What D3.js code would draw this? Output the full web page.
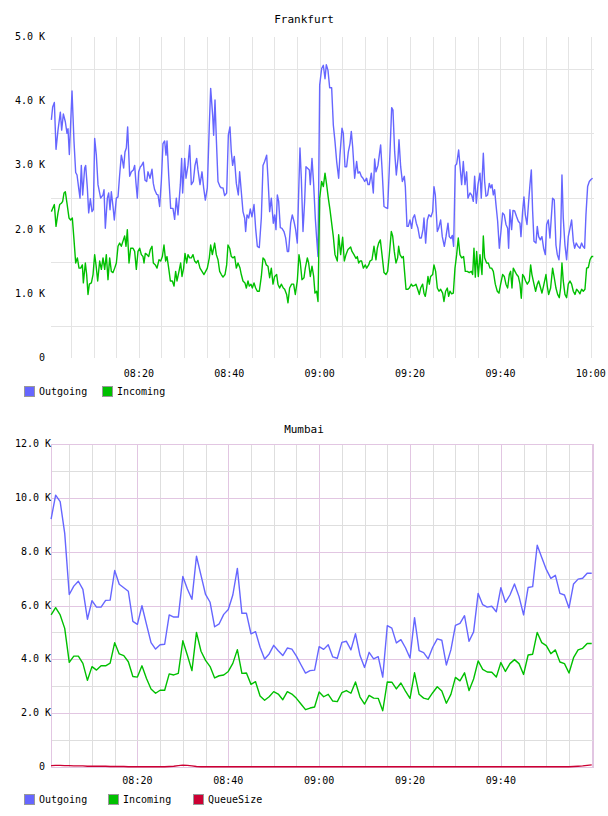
<!DOCTYPE html>
<html>
<head>
<meta charset="utf-8">
<script src="https://cdn.jsdelivr.net/npm/d3@7"></script>
<style>
  body { margin: 0; background: #fff; }
  svg { display: block; }
  text { font-family: "DejaVu Sans Mono", monospace; font-size: 10px; fill: #000; }
</style>
</head>
<body>
<svg id="chart" width="608" height="816"></svg>
<script>
// times are minutes after 08:00, values are thousands
const frankfurtOutgoing = [
  [0.63,3.71],[0.92,3.91],[1.29,3.98],[1.66,3.25],[2.10,3.55],[2.62,3.83],[2.91,3.55],[3.28,3.80],[3.72,3.68],[4.09,3.50],
  [4.31,3.57],[4.61,3.17],[5.20,4.16],[5.64,3.37],[6.01,2.89],[6.31,2.85],[6.67,2.65],[6.97,2.49],[7.26,3.00],[7.56,2.54],
  [8.00,2.96],[8.22,3.00],[8.59,2.65],[8.89,2.26],[9.26,2.48],[9.62,2.28],[9.92,2.31],[10.21,3.42],[10.58,3.16],[10.95,2.70],
  [11.54,2.49],[12.06,2.54],[12.28,2.62],[12.57,2.02],[13.02,2.49],[13.31,2.57],[13.61,2.31],[13.90,2.59],[14.27,2.36],[14.56,2.15],
  [15.01,2.49],[15.38,2.51],[15.74,2.85],[16.11,3.16],[16.33,3.09],[16.63,2.96],[16.92,3.21],[17.22,3.27],[17.51,3.60],[17.96,2.83],
  [18.33,2.90],[18.77,2.93],[19.06,3.00],[19.36,2.72],[19.65,2.49],[19.95,2.90],[20.32,2.98],[20.61,3.00],[20.98,3.05],[21.35,2.77],
  [21.72,2.75],[22.01,2.90],[22.46,2.80],[22.90,2.94],[23.19,2.72],[23.49,2.62],[23.93,2.55],[24.23,2.54],[24.59,2.36],[24.96,2.75],
  [25.33,3.34],[25.70,3.38],[25.99,3.16],[26.22,3.38],[26.59,2.85],[27.03,2.33],[27.54,2.33],[27.91,2.16],[28.28,2.49],[28.65,2.23],
  [29.17,2.70],[29.46,3.11],[29.68,2.57],[30.13,3.11],[30.42,2.80],[30.86,3.00],[31.23,3.31],[31.60,2.70],[32.04,2.75],[32.41,3.00],
  [32.78,3.11],[33.07,2.93],[33.52,2.70],[33.96,2.90],[34.33,2.65],[34.70,2.46],[35.14,2.65],[35.58,3.63],[35.88,4.20],[36.32,3.78],
  [36.54,3.47],[36.84,4.02],[37.13,3.42],[37.50,2.75],[37.94,2.67],[38.24,2.65],[38.61,2.65],[38.97,2.53],[39.42,2.57],[39.79,3.47],
  [40.15,3.60],[40.45,3.21],[40.74,3.00],[41.11,3.14],[41.56,2.72],[42.00,2.54],[42.29,2.90],[42.66,2.59],[43.03,2.28],[43.40,2.18],
  [43.62,1.97],[43.92,2.23],[44.29,2.18],[44.65,2.32],[45.02,2.20],[45.47,2.39],[45.83,2.02],[46.20,1.74],[46.64,1.72],[47.09,2.18],
  [47.46,3.00],[47.82,3.06],[48.27,3.16],[48.56,2.80],[48.93,2.28],[49.30,2.49],[49.74,2.10],[50.04,2.23],[50.33,2.00],[50.63,2.54],
  [50.92,2.44],[51.29,2.03],[51.66,2.02],[52.10,1.97],[52.47,1.87],[52.84,1.66],[53.13,1.66],[53.58,2.10],[53.94,2.23],[54.31,2.13],
  [54.68,2.00],[55.05,1.79],[55.42,2.75],[55.64,3.27],[55.94,2.80],[56.31,1.97],[56.67,2.44],[56.97,2.98],[57.27,2.96],[57.71,2.93],
  [57.93,2.70],[58.30,3.11],[58.67,2.70],[59.03,2.18],[59.33,1.87],[59.63,1.58],[60.00,4.25],[60.44,4.51],[60.81,4.56],[61.18,4.35],
  [61.47,4.57],[61.84,4.48],[62.21,4.21],[62.65,4.21],[63.02,3.63],[63.39,3.37],[63.76,3.06],[64.20,2.80],[64.49,3.16],[64.94,3.58],
  [65.23,3.50],[65.60,2.98],[65.97,2.98],[66.34,3.21],[66.71,3.34],[67.00,3.53],[67.30,3.29],[67.74,2.80],[68.18,3.06],[68.48,2.88],
  [68.85,2.90],[69.21,2.83],[69.58,2.80],[69.95,2.75],[70.39,2.80],[70.69,2.70],[70.98,2.70],[71.43,2.88],[71.87,2.57],[72.16,3.10],
  [72.46,2.90],[72.90,3.00],[73.49,3.32],[73.79,2.96],[74.23,2.36],[74.67,2.34],[75.04,2.33],[75.56,3.21],[75.93,3.90],[76.22,3.86],
  [76.59,3.21],[76.96,2.85],[77.33,3.11],[77.55,3.40],[77.92,2.98],[78.29,2.75],[78.73,2.83],[78.95,2.67],[79.32,2.05],[79.61,2.05],
  [79.98,2.15],[80.35,2.02],[80.65,2.18],[81.01,2.23],[81.38,2.10],[81.75,2.02],[82.12,1.87],[82.49,1.87],[82.86,2.00],[83.08,2.18],
  [83.45,1.79],[83.82,2.15],[84.18,2.23],[84.63,2.20],[85.00,2.28],[85.29,2.67],[85.59,2.54],[86.03,1.97],[86.32,2.02],[86.77,2.15],
  [87.13,1.89],[87.58,1.74],[87.95,1.89],[88.39,2.10],[88.68,1.89],[89.05,1.86],[89.35,1.91],[89.64,1.74],[90.01,3.00],[90.31,3.02],
  [90.75,3.24],[91.04,3.00],[91.41,2.70],[91.78,3.06],[92.15,2.70],[92.52,2.90],[92.81,2.49],[93.26,2.57],[93.62,2.54],[93.99,2.44],
  [94.29,2.83],[94.66,2.41],[95.03,2.70],[95.47,2.88],[95.76,2.49],[96.21,3.19],[96.50,2.75],[96.80,2.52],[97.16,2.54],[97.53,2.72],
  [97.83,2.65],[98.12,2.70],[98.42,2.54],[98.71,2.62],[99.01,2.39],[99.38,2.13],[99.75,1.71],[100.11,1.97],[100.48,2.26],[100.85,2.23],
  [101.22,2.08],[101.59,2.02],[101.81,1.71],[102.10,2.31],[102.47,2.00],[102.77,2.30],[103.14,2.29],[103.58,2.20],[103.95,2.13],[104.32,2.10],
  [104.54,1.89],[104.91,2.29],[105.20,2.51],[105.50,2.23],[105.87,2.08],[106.24,2.44],[106.53,2.70],[106.83,2.93],[107.12,2.29],[107.42,1.82],
  [107.86,1.79],[108.15,2.05],[108.45,1.89],[108.82,1.84],[109.18,1.89],[109.55,1.71],[109.92,1.61],[110.22,2.08],[110.59,2.15],[110.95,1.87],
  [111.32,2.26],[111.54,2.49],[111.91,2.46],[112.28,1.76],[112.58,1.61],[112.95,1.53],[113.31,1.89],[113.61,2.85],[113.90,2.18],[114.27,1.76],
  [114.64,1.53],[115.01,1.89],[115.38,2.02],[115.75,2.15],[116.12,1.82],[116.41,1.71],[116.78,1.79],[117.15,1.74],[117.59,1.71],[117.96,1.79],
  [118.25,1.74],[118.62,1.71],[118.92,2.23],[119.29,2.67],[119.66,2.75],[120.03,2.78],[120.39,2.80]
];

const frankfurtIncoming = [
  [0.63,2.28],[0.92,2.33],[1.29,2.39],[1.66,2.05],[2.10,2.26],[2.47,2.39],[2.84,2.41],[3.13,2.44],[3.43,2.57],[3.72,2.59],
  [4.09,2.41],[4.54,2.18],[4.90,2.15],[5.27,2.18],[5.64,1.84],[6.01,1.48],[6.38,1.56],[6.75,1.40],[7.12,1.40],[7.49,1.45],
  [7.71,1.17],[8.15,1.48],[8.44,1.30],[8.74,0.99],[9.03,1.15],[9.48,1.17],[9.85,1.30],[10.21,1.61],[10.51,1.45],[10.88,1.20],
  [11.32,1.51],[11.69,1.38],[12.06,1.56],[12.43,1.38],[12.79,1.61],[13.16,1.22],[13.53,1.56],[13.90,1.35],[14.27,1.33],[14.64,1.40],
  [15.01,1.48],[15.38,1.74],[15.74,1.79],[16.11,1.74],[16.48,1.82],[16.85,1.90],[17.15,1.74],[17.44,2.00],[17.81,1.48],[18.18,1.71],
  [18.70,1.71],[19.06,1.66],[19.43,1.38],[19.80,1.66],[20.17,1.71],[20.54,1.61],[20.91,1.58],[21.13,1.48],[21.42,1.63],[21.79,1.61],
  [22.16,1.58],[22.53,1.69],[22.90,1.74],[23.19,1.48],[23.64,1.45],[24.01,1.40],[24.45,1.53],[24.82,1.51],[25.19,1.58],[25.55,1.76],
  [25.92,1.51],[26.22,1.58],[26.59,1.40],[26.96,1.20],[27.40,1.20],[27.77,1.12],[28.13,1.35],[28.43,1.20],[28.87,1.35],[29.24,1.48],
  [29.54,1.27],[29.90,1.40],[30.20,1.63],[30.57,1.48],[30.86,1.61],[31.23,1.56],[31.60,1.56],[31.97,1.61],[32.34,1.51],[32.71,1.48],
  [33.07,1.52],[33.52,1.40],[33.96,1.35],[34.40,1.30],[34.77,1.35],[35.14,1.40],[35.58,1.56],[35.88,1.76],[36.25,1.61],[36.76,1.79],
  [37.13,1.61],[37.50,1.53],[37.87,1.35],[38.24,1.30],[38.61,1.26],[39.05,1.30],[39.42,1.45],[39.71,1.76],[40.08,1.71],[40.45,1.58],
  [40.82,1.56],[41.19,1.58],[41.56,1.40],[41.93,1.48],[42.37,1.40],[42.66,1.30],[43.03,1.20],[43.47,1.17],[43.77,1.09],[44.14,1.20],
  [44.43,1.12],[44.80,1.15],[45.10,1.09],[45.47,1.17],[45.83,1.09],[46.20,1.04],[46.64,1.04],[47.09,1.27],[47.46,1.56],[47.82,1.53],
  [48.19,1.45],[48.56,1.43],[48.93,1.25],[49.30,1.40],[49.67,1.15],[50.04,1.27],[50.48,1.30],[50.77,1.15],[51.14,1.09],[51.51,1.15],
  [51.95,1.09],[52.25,1.07],[52.69,0.99],[52.99,0.86],[53.35,1.09],[53.80,1.15],[54.24,1.15],[54.61,0.99],[55.05,1.20],[55.42,1.61],
  [55.72,1.48],[56.08,1.22],[56.53,1.25],[56.82,1.40],[57.27,1.56],[57.56,1.48],[57.93,1.27],[58.30,1.43],[58.67,1.27],[58.96,1.01],
  [59.33,1.04],[59.63,0.88],[60.00,2.49],[60.44,2.75],[60.81,2.67],[61.18,2.88],[61.54,2.70],[61.91,2.49],[62.28,2.31],[62.65,2.10],
  [63.02,1.89],[63.39,1.61],[63.90,1.51],[64.20,1.92],[64.64,1.61],[65.08,1.88],[65.45,1.51],[65.82,1.61],[66.26,1.69],[66.56,1.71],
  [66.85,1.73],[67.15,1.66],[67.59,1.61],[68.03,1.55],[68.33,1.58],[68.62,1.48],[68.92,1.51],[69.29,1.51],[69.66,1.40],[70.10,1.45],
  [70.39,1.40],[70.84,1.45],[71.13,1.51],[71.57,1.53],[72.02,1.74],[72.46,1.53],[72.75,1.71],[73.05,1.79],[73.42,1.84],[73.79,1.61],
  [74.23,1.33],[74.67,1.30],[75.04,1.35],[75.41,1.61],[75.85,1.97],[76.15,1.90],[76.51,1.66],[76.88,1.48],[77.25,1.56],[77.47,1.74],
  [77.77,1.61],[78.21,1.56],[78.51,1.58],[78.80,1.33],[79.10,1.07],[79.54,1.07],[79.83,1.09],[80.28,1.15],[80.57,1.12],[81.01,1.13],
  [81.31,1.15],[81.68,1.07],[82.05,0.99],[82.34,1.09],[82.78,1.15],[83.08,1.01],[83.37,0.96],[83.67,1.09],[83.96,1.27],[84.26,1.15],
  [84.55,1.27],[85.00,1.30],[85.29,1.45],[85.66,1.35],[86.03,1.09],[86.40,1.04],[86.77,1.07],[87.21,1.01],[87.50,0.88],[87.87,1.04],
  [88.24,1.09],[88.54,0.96],[88.83,1.04],[89.20,1.00],[89.57,1.01],[89.94,1.40],[90.31,1.61],[90.67,1.87],[91.04,1.61],[91.41,1.56],
  [91.85,1.58],[92.22,1.35],[92.67,1.35],[93.11,1.33],[93.55,1.35],[93.85,1.30],[94.14,1.71],[94.44,1.26],[94.73,1.66],[95.10,1.27],
  [95.47,1.61],[95.91,1.30],[96.21,1.90],[96.50,1.56],[96.94,1.48],[97.31,1.48],[97.68,1.40],[98.05,1.40],[98.42,1.35],[98.86,1.15],
  [99.30,1.04],[99.67,1.01],[100.04,1.15],[100.48,1.30],[100.85,1.27],[101.22,1.15],[101.59,1.09],[101.96,1.30],[102.25,1.35],[102.55,1.09],
  [102.84,1.40],[103.21,1.35],[103.58,1.30],[103.95,1.27],[104.32,1.15],[104.61,0.93],[104.91,1.30],[105.20,1.27],[105.57,1.20],[105.94,1.15],
  [106.38,1.20],[106.68,1.45],[106.97,1.30],[107.42,1.15],[107.78,1.04],[108.15,1.15],[108.45,1.20],[108.89,1.09],[109.18,1.01],[109.63,1.15],
  [110.07,1.30],[110.36,1.12],[110.66,0.99],[111.10,1.09],[111.54,1.40],[111.91,1.25],[112.28,1.09],[112.65,0.99],[113.02,0.94],[113.31,1.09],
  [113.61,1.48],[113.90,1.20],[114.27,0.99],[114.64,0.94],[115.01,1.15],[115.38,1.20],[115.75,1.15],[116.12,1.04],[116.49,0.99],[116.85,1.07],
  [117.22,1.04],[117.59,1.00],[117.96,1.07],[118.33,1.04],[118.70,1.07],[119.07,1.40],[119.44,1.41],[119.81,1.53],[120.18,1.58],[120.54,1.58]
];

// Mumbai: one sample per minute starting 08:01
const mumbaiFirstMinute = 1;
const mumbaiOutgoing = [
  9.21,10.1,9.86,8.68,6.41,6.72,6.90,6.60,5.49,6.18, 5.94,5.94,6.19,6.20,7.30,6.79,6.66,6.53,5.41,5.30,
  5.99,5.30,4.62,4.38,4.54,4.56,5.65,5.57,5.57,7.08, 6.61,6.23,7.83,7.12,6.41,6.12,5.21,5.32,5.67,5.85,
  6.39,7.38,5.71,5.71,4.95,5.03,4.45,4.01,4.20,4.52, 4.32,4.14,4.42,4.38,4.12,3.80,3.49,3.58,3.60,4.47,
  4.37,4.54,4.09,4.04,4.63,4.67,4.35,4.95,4.14,3.70, 4.26,4.02,4.10,3.34,5.25,5.16,4.61,4.73,4.43,4.05,
  5.55,4.32,4.25,4.02,4.45,4.76,4.71,3.79,4.35,5.26, 5.34,5.62,4.67,5.02,6.45,6.03,5.94,5.97,5.77,6.66,
  6.12,6.39,6.80,6.33,5.65,6.67,6.70,8.24,7.78,7.34, 7.01,7.12,6.45,6.39,5.91,6.80,6.98,7.01,7.20,7.20
];
const mumbaiIncoming = [
  5.65,5.92,5.65,5.15,3.89,4.12,4.12,3.85,3.22,3.73, 3.60,3.76,3.76,3.86,4.62,4.20,4.14,3.91,3.36,3.34,
  3.76,3.29,2.90,2.74,2.85,2.85,3.46,3.42,3.48,4.69, 4.15,3.58,5.00,4.30,3.96,3.73,3.31,3.39,3.42,3.55,
  3.85,4.36,3.48,3.49,3.07,3.17,2.64,2.48,2.61,2.80, 2.71,2.50,2.80,2.71,2.55,2.34,2.13,2.19,2.23,2.79,
  2.61,2.70,2.45,2.43,2.76,2.84,2.74,3.16,2.60,2.34, 2.66,2.56,2.55,2.09,3.16,3.15,2.90,3.12,2.82,2.55,
  3.50,2.70,2.56,2.51,2.76,2.98,2.82,2.37,2.70,3.33, 3.20,3.50,2.84,3.27,3.94,3.63,3.53,3.52,3.34,3.88,
  3.55,3.84,3.99,3.84,3.44,4.16,4.19,5.00,4.62,4.51, 4.21,4.35,3.90,3.84,3.49,4.06,4.35,4.41,4.59,4.59
];
const mumbaiQueueSize = [
  0.05,0.06,0.06,0.05,0.05,0.04,0.04,0.04,0.03,0.03, 0.03,0.03,0.03,0.02,0.02,0.02,0.02,0.01,0.01,0.01,
  0.01,0.01,0.01,0.01,0.01,0.01,0.02,0.03,0.05,0.07, 0.06,0.04,0.02,0.01,0.01,0.01,0.01,0.01,0.01,0.01,
  0.01,0.01,0.01,0.01,0.01,0.01,0.01,0.01,0.01,0.01, 0.01,0.01,0.01,0.01,0.01,0.01,0.01,0.01,0.01,0.01,
  0.01,0.01,0.01,0.01,0.01,0.01,0.01,0.01,0.01,0.01, 0.01,0.01,0.01,0.01,0.01,0.01,0.01,0.01,0.01,0.01,
  0.01,0.01,0.01,0.01,0.01,0.01,0.01,0.01,0.01,0.01, 0.01,0.01,0.01,0.01,0.01,0.01,0.01,0.01,0.01,0.01,
  0.01,0.01,0.01,0.01,0.01,0.01,0.01,0.01,0.01,0.01, 0.01,0.01,0.01,0.01,0.01,0.02,0.03,0.04,0.06,0.08
];

const COLORS = { Outgoing: '#6666ff', Incoming: '#00c000', QueueSize: '#cc0033' };
const xLabelMinutes = [20, 40, 60, 80, 100, 120];

const BASE = new Date(2024, 0, 1, 8, 0, 0);
const at = m => new Date(BASE.getTime() + m * 60000);
const fmtK = v => v === 0 ? '0' : v.toFixed(1) + ' K';

const svg = d3.select('#chart');

function drawChart(cfg) {
    const g = svg.append('g');
    const x = d3.scaleTime().domain([at(cfg.domain[0]), at(cfg.domain[1])]).range([cfg.left, cfg.right]);
    const y = d3.scaleLinear().domain([0, cfg.yMax]).range([cfg.bottom, cfg.top]);

    g.append('text')
        .attr('x', 304).attr('y', cfg.titleY)
        .attr('text-anchor', 'middle').attr('dominant-baseline', 'middle')
        .style('font-size', '11px')
        .text(cfg.title);

    // grid
    const minutes = d3.range(5, cfg.domain[1], 5);
    g.append('g').selectAll('line')
        .data(minutes)
        .enter()
        .append('line')
        .attr('x1', m => Math.round(x(at(m))) + 0.5)
        .attr('x2', m => Math.round(x(at(m))) + 0.5)
        .attr('y1', cfg.top).attr('y2', cfg.bottom)
        .attr('stroke', m => (cfg.majorColor && m % 20 === 0) ? cfg.majorColor : cfg.gridColor)
        .attr('stroke-width', 1);
    g.append('g').selectAll('line')
        .data(cfg.hGrid)
        .enter()
        .append('line')
        .attr('x1', cfg.left).attr('x2', cfg.right)
        .attr('y1', v => Math.round(y(v)) + 0.5)
        .attr('y2', v => Math.round(y(v)) + 0.5)
        .attr('stroke', v => (cfg.majorColor && v % 2 === 0) ? cfg.majorColor : cfg.gridColor)
        .attr('stroke-width', 1);
    if (cfg.border) {
        g.append('rect')
            .attr('x', cfg.left + 0.5).attr('y', cfg.top + 0.5)
            .attr('width', cfg.right - cfg.left - 1).attr('height', cfg.bottom - cfg.top)
            .attr('fill', 'none').attr('stroke', cfg.border);
    }

    // y labels
    g.append('g').selectAll('text')
        .data(cfg.yTicks)
        .enter()
        .append('text')
        .attr('x', v => v === 0 ? 45 : cfg.yLabelRight)
        .attr('y', v => y(v))
        .attr('text-anchor', 'end')
        .attr('dominant-baseline', 'middle')
        .text(fmtK);

    // x labels
    g.append('g').selectAll('text')
        .data(cfg.xLabels)
        .enter()
        .append('text')
        .attr('x', m => x(at(m)))
        .attr('y', cfg.bottom + cfg.xLabelOffset)
        .attr('text-anchor', 'middle')
        .attr('dominant-baseline', 'middle')
        .text(m => d3.timeFormat('%H:%M')(at(m)));

    const line = d3.line()
        .x(d => x(at(d[0])))
        .y(d => y(d[1]));
    g.append('g').selectAll('path')
        .data(cfg.series)
        .enter()
        .append('path')
        .attr('d', s => line(s.data))
        .attr('fill', 'none')
        .attr('stroke', s => COLORS[s.name])
        .attr('stroke-width', 1.4)
        .attr('stroke-linejoin', 'round');

    // legend
    const leg = g.append('g').selectAll('g')
        .data(cfg.series)
        .enter()
        .append('g')
        .attr('transform', (s, i) => `translate(${cfg.legendX[i]},${cfg.legendY})`);
    leg.append('rect')
        .attr('x', 0.5).attr('y', -5.5)
        .attr('width', 10).attr('height', 10)
        .attr('fill', s => COLORS[s.name])
        .attr('stroke', '#999');
    leg.append('text')
        .attr('x', 15).attr('y', 0)
        .attr('dominant-baseline', 'middle')
        .text(s => s.name);
}

drawChart({
    title: 'Frankfurt', titleY: 20,
    left: 51, right: 594, top: 37, bottom: 358,
    domain: [0.55, 120.7], yMax: 5,
    yTicks: [0, 1, 2, 3, 4, 5], yLabelRight: 45,
    hGrid: [0.5, 1.5, 2.5, 3.5, 4.5],
    gridColor: '#e4e4e4',
    xLabels: xLabelMinutes, xLabelOffset: 15.5,
    legendX: [24, 102], legendY: 392,
    series: [
        { name: 'Outgoing', data: frankfurtOutgoing },
        { name: 'Incoming', data: frankfurtIncoming }
    ]
});

const mumbaiPairs = vals => vals.map((v, i) => [mumbaiFirstMinute + i, v]);

drawChart({
    title: 'Mumbai', titleY: 430,
    left: 51, right: 594, top: 444, bottom: 767,
    domain: [0.98, 120.5], yMax: 12,
    yTicks: [0, 2, 4, 6, 8, 10, 12], yLabelRight: 51,
    hGrid: d3.range(1, 12),
    gridColor: '#dedede', majorColor: '#e2c6e2', border: '#e2c6e2',
    xLabels: xLabelMinutes.slice(0, 5), xLabelOffset: 13.5,
    legendX: [24, 108, 193], legendY: 800,
    series: [
        { name: 'Outgoing', data: mumbaiPairs(mumbaiOutgoing) },
        { name: 'Incoming', data: mumbaiPairs(mumbaiIncoming) },
        { name: 'QueueSize', data: mumbaiPairs(mumbaiQueueSize) }
    ]
});
</script>
</body>
</html>
